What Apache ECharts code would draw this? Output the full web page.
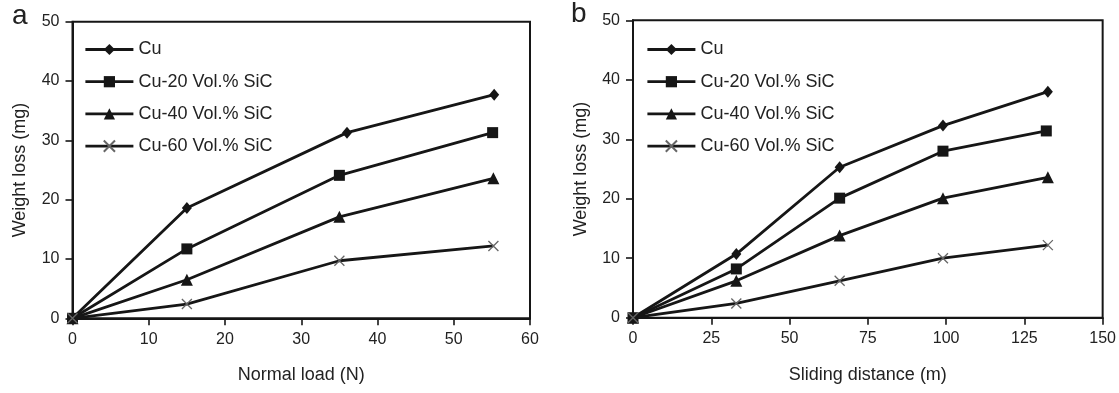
<!DOCTYPE html>
<html>
<head>
<meta charset="utf-8">
<script src="https://cdn.jsdelivr.net/npm/echarts@6/dist/echarts.min.js"></script>
<style>
html,body{margin:0;padding:0;background:#fff;}
#c{width:1119px;height:393px;}
</style>
</head>
<body>
<div id="c"></div>
<script>
// ---- Data ----
const seriesNames = ['Cu', 'Cu-20 Vol.% SiC', 'Cu-40 Vol.% SiC', 'Cu-60 Vol.% SiC'];

// Panel a: weight loss (mg) vs normal load (N)
const loadCu   = [[0, 0], [15, 18.6], [36, 31.3], [55.3, 37.7]];
const loadCu20 = [[0, 0], [15, 11.7], [35, 24.1], [55.1, 31.3]];
const loadCu40 = [[0, 0], [15, 6.5],  [35, 17.1], [55.2, 23.6]];
const loadCu60 = [[0, 0], [15, 2.4],  [35, 9.7],  [55.2, 12.2]];

// Panel b: weight loss (mg) vs sliding distance (m)
const distCu   = [[0, 0], [33, 10.7], [66, 25.3], [99, 32.3], [132.5, 38.0]];
const distCu20 = [[0, 0], [33, 8.2],  [66, 20.1], [99, 28.0], [132, 31.4]];
const distCu40 = [[0, 0], [33, 6.2],  [66, 13.8], [99, 20.1], [132.5, 23.6]];
const distCu60 = [[0, 0], [33, 2.4],  [66, 6.2],  [99, 10.0], [132.5, 12.2]];

const loadTicks = {min: 0, max: 60, interval: 10};
const distTicks = {min: 0, max: 150, interval: 25};
const lossTicks = {min: 0, max: 50, interval: 10};

// ---- Styles ----
const FONT = "'Liberation Sans', Arial, sans-serif";
const INK = '#161616';
const symbols = ['diamond', 'rect', 'triangle', 'path://M0,0L10,10M10,0L0,10'];
const symbolSizes = [[10, 12], 11, 12, 10];

function makeSeries(name, idx, data, axisIdx) {
  const isCross = idx === 3;
  return {
    type: 'line',
    name: name,
    xAxisIndex: axisIdx,
    yAxisIndex: axisIdx,
    data: data,
    symbol: symbols[idx],
    symbolSize: symbolSizes[idx],
    showAllSymbol: true,
    lineStyle: {color: INK, width: 2.8},
    itemStyle: isCross
      ? {color: '#666', borderColor: '#666', borderWidth: 1.3}
      : {color: INK, borderColor: INK, borderWidth: 0},
    emphasis: {disabled: true},
    animation: false,
    z: 3
  };
}

function xAxisOpt(gridIndex, ticks, name) {
  return {
    type: 'value', gridIndex: gridIndex,
    min: ticks.min, max: ticks.max, interval: ticks.interval,
    name: name, nameLocation: 'middle', nameGap: 48,
    nameTextStyle: {fontFamily: FONT, fontSize: 18, color: '#222'},
    axisLine: {show: true, onZero: false, lineStyle: {color: INK, width: 2}},
    axisTick: {show: true, inside: false, length: 7, lineStyle: {color: INK, width: 1.6}},
    axisLabel: {fontFamily: FONT, fontSize: 16, color: '#222', margin: 13},
    splitLine: {show: false}
  };
}

function yAxisOpt(gridIndex, ticks, name) {
  return {
    type: 'value', gridIndex: gridIndex,
    min: ticks.min, max: ticks.max, interval: ticks.interval,
    name: name, nameLocation: 'middle', nameGap: 43,
    nameTextStyle: {fontFamily: FONT, fontSize: 18, color: '#222'},
    axisLine: {show: true, onZero: false, lineStyle: {color: INK, width: 2}},
    axisTick: {show: true, inside: false, length: 7, lineStyle: {color: INK, width: 1.6}},
    axisLabel: {fontFamily: FONT, fontSize: 16, color: '#222', margin: 13},
    splitLine: {show: false}
  };
}

function legendOpt(left) {
  return {
    show: true, orient: 'vertical', left: left, top: 39.5,
    padding: 0,
    data: seriesNames,
    itemWidth: 48, itemHeight: 14, itemGap: 12.2,
    lineStyle: {color: INK, width: 2.8},
    textStyle: {fontFamily: FONT, fontSize: 18, color: '#222', lineHeight: 20},
    selectedMode: false,
    backgroundColor: 'transparent'
  };
}

const chart = echarts.init(document.getElementById('c'), null, {renderer: 'canvas'});
chart.setOption({
  backgroundColor: '#fff',
  animation: false,
  grid: [
    {left: 72.5, top: 21.7, right: 589, bottom: 74.7, show: true, borderColor: INK, borderWidth: 2, backgroundColor: 'transparent'},
    {left: 633, top: 20.3, right: 14, bottom: 75.3, show: true, borderColor: INK, borderWidth: 2, backgroundColor: 'transparent'}
  ],
  legend: [legendOpt(84), legendOpt(646)],
  xAxis: [
    xAxisOpt(0, loadTicks, 'Normal load (N)'),
    xAxisOpt(1, distTicks, 'Sliding distance (m)')
  ],
  yAxis: [
    yAxisOpt(0, lossTicks, 'Weight loss (mg)'),
    yAxisOpt(1, lossTicks, 'Weight loss (mg)')
  ],
  graphic: [
    {type: 'text', left: 12, top: 2, style: {text: 'a', fontFamily: FONT, fontSize: 28, fill: '#222'}},
    {type: 'text', left: 571, top: 0, style: {text: 'b', fontFamily: FONT, fontSize: 28, fill: '#222'}}
  ],
  series: [
    makeSeries(seriesNames[0], 0, loadCu, 0),
    makeSeries(seriesNames[1], 1, loadCu20, 0),
    makeSeries(seriesNames[2], 2, loadCu40, 0),
    makeSeries(seriesNames[3], 3, loadCu60, 0),
    makeSeries(seriesNames[0], 0, distCu, 1),
    makeSeries(seriesNames[1], 1, distCu20, 1),
    makeSeries(seriesNames[2], 2, distCu40, 1),
    makeSeries(seriesNames[3], 3, distCu60, 1)
  ]
});
</script>
</body>
</html>
